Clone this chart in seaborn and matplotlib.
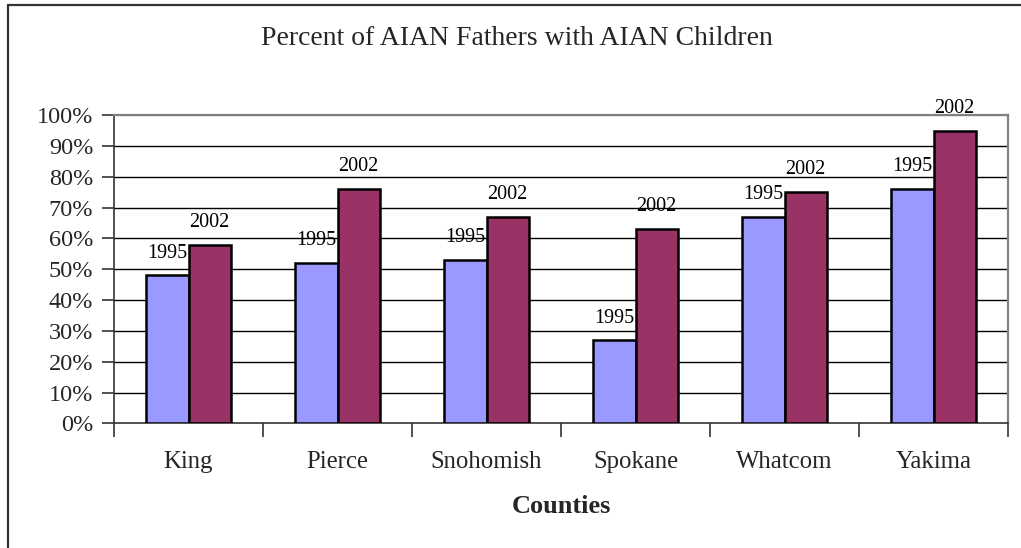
import matplotlib
matplotlib.use("Agg")
import matplotlib.pyplot as plt
from matplotlib.ticker import FixedLocator, FuncFormatter
from matplotlib.lines import Line2D
import seaborn as sns
import pandas as pd

counties = ["King", "Pierce", "Snohomish", "Spokane", "Whatcom", "Yakima"]
years = ["1995", "2002"]
pct_1995 = [48, 52, 53, 27, 67, 76]
pct_2002 = [58, 76, 67, 63, 75, 95]

df = pd.DataFrame({
    "County": counties * 2,
    "Year": [years[0]] * len(counties) + [years[1]] * len(counties),
    "Percent": pct_1995 + pct_2002,
})

sns.set_theme(style="white")
plt.rcParams["font.family"] = ["Liberation Serif", "DejaVu Serif"]

fig = plt.figure(figsize=(10.21, 5.48), dpi=100)
ax = fig.add_axes([0.1117, 0.2272, 0.8756, 0.5628])

palette = {"1995": "#9999FF", "2002": "#993366"}
sns.barplot(data=df, x="County", y="Percent", hue="Year", order=counties,
            hue_order=years, palette=palette, width=0.565, gap=0,
            edgecolor="black", linewidth=1.8, saturation=1, legend=False,
            errorbar=None, ax=ax, zorder=3)

ax.set_ylim(0, 100)
ax.set_xlim(-0.5, len(counties) - 0.5)

# horizontal gridlines every 10%
ax.yaxis.set_major_locator(FixedLocator(range(0, 101, 10)))
ax.yaxis.set_major_formatter(FuncFormatter(lambda v, p: f"{int(v)}%"))
for v in range(10, 100, 10):
    ax.axhline(v, color="black", linewidth=1.0, zorder=1)
ax.axhline(100, color="#808080", linewidth=1.6, zorder=1)

# value labels: series name above each bar
for container, yr in zip(ax.containers, years):
    for rect in container:
        x = rect.get_x() + rect.get_width() / 2
        h = rect.get_height()
        ax.annotate(yr, (x, h), xytext=(0, 16), textcoords="offset points",
                    ha="center", va="center", fontsize=14.5, color="black")

# spines
for s in ["top", "right"]:
    ax.spines[s].set_color("#808080")
    ax.spines[s].set_linewidth(1.6)
for s in ["left", "bottom"]:
    ax.spines[s].set_color("#333333")
    ax.spines[s].set_linewidth(1.2)

ax.tick_params(axis="y", which="major", direction="out", length=9, width=1.2,
               color="#333333", pad=6, labelsize=17.5, left=True)
ax.tick_params(axis="x", which="major", length=0, pad=20, labelsize=17.8)
ax.set_xticks(range(len(counties)))
ax.set_xticklabels(counties)
ax.xaxis.set_minor_locator(FixedLocator([i - 0.5 for i in range(len(counties) + 1)]))
ax.tick_params(axis="x", which="minor", direction="out", length=10, width=1.2,
               color="#333333", bottom=True)

ax.set_xlabel("Counties", fontsize=19, fontweight="bold", labelpad=16)
ax.set_ylabel("")

fig.text(0.5065, 0.930, "Percent of AIAN Fathers with AIAN Children",
         ha="center", va="center", fontsize=20)

# outer chart frame
fig.add_artist(Line2D([0.0078, 1.0], [0.9909, 0.9909], color="#333333", linewidth=1.6,
                      transform=fig.transFigure))
fig.add_artist(Line2D([0.0078, 0.0078], [0.0, 0.9909], color="#333333", linewidth=1.6,
                      transform=fig.transFigure))

fig.savefig("out.png", dpi=100, facecolor="white")
